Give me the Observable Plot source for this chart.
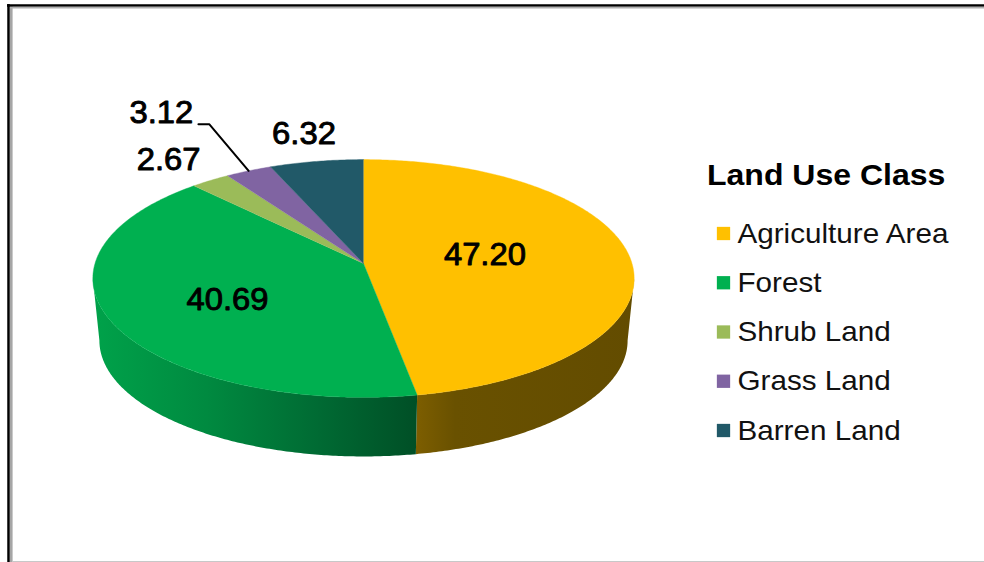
<!DOCTYPE html>
<html>
<head>
<meta charset="utf-8">
<style>
  html, body { margin: 0; padding: 0; background: #fff; }
  svg { display: block; }
</style>
<script src="https://cdn.jsdelivr.net/npm/d3@7"></script>
<script src="https://cdn.jsdelivr.net/npm/@observablehq/plot@0.6"></script>
</head>
<body>
<div id="chart"></div>
<script>
// Land use shares, in per cent of the mapped area
const categories = ["Agriculture Area", "Forest", "Shrub Land", "Grass Land", "Barren Land"];
const shares = [47.20, 40.69, 2.67, 3.12, 6.32];
const shareLabels = ["47.20", "40.69", "2.67", "3.12", "6.32"];
const colors = ["#FFC000", "#00B050", "#9BBB59", "#8064A2", "#215968"];
const legendTitle = "Land Use Class";

// Where each value label sits: radial factor from the pie centre, then a nudge
const labelRadius = [0.46, 0.55, 1.27, 1.74, 1.305];
const labelNudge = [[-1, -4], [0, 7], [-5, 0], [-16, 0], [0, 0]];

const W = 984, H = 562;

// Perspective view of the disc: k sets the foreshortening towards the back
const top3d = {cx: 363, cy: 263, a: 117, b: 268.5, k: 0.126};
const base3d = {cx: 363, cy: 325.5, a: 114, b: 262, k: 0.126};
const project = (t, r, v = top3d) => {
  const d = 1 + v.k * r * Math.cos(t);
  return {x: v.cx + v.b * r * Math.sin(t) / d, y: v.cy - v.a * r * Math.cos(t) / d};
};
const sweep = (t0, t1) => {
  const n = Math.max(2, Math.ceil(Math.abs(t1 - t0) / 0.01));
  return d3.range(n + 1).map((i) => t0 + (t1 - t0) * i / n);
};

const slices = d3.pie().sort(null)(shares);

// Top face wedges
const wedges = slices.map((s) => [project(0, 0), ...sweep(s.startAngle, s.endAngle).map((t) => project(t, 1))]);

// Side wall: only the part of the rim that faces the viewer
const sideStart = Math.PI - Math.acos(top3d.k);
const sideEnd = Math.PI + Math.acos(top3d.k);
const walls = slices.map((s) => {
  const t0 = Math.max(s.startAngle, sideStart), t1 = Math.min(s.endAngle, sideEnd);
  if (t1 <= t0) return null;
  const ts = sweep(t0, t1);
  return [...ts.map((t) => project(t, 1)), ...ts.slice().reverse().map((t) => project(t, 1, base3d))];
});

// Horizontal shading of the wall segments
const shading = [
  {id: "wall-0", stops: [[0, "#7d5e00"], [0.18, "#695100"], [1, "#634c00"]]},
  {id: "wall-1", stops: [[0, "#00a24a"], [0.35, "#008a40"], [0.7, "#006a33"], [1, "#004f26"]]}
];
const gradients = () => {
  const defs = d3.create("svg:defs");
  shading.forEach((g) => {
    const i = +g.id.split("-")[1];
    const xs = walls[i].map((p) => p.x);
    const lg = defs.append("linearGradient").attr("id", g.id).attr("gradientUnits", "userSpaceOnUse")
      .attr("x1", d3.min(xs)).attr("x2", d3.max(xs)).attr("y1", 0).attr("y2", 0);
    g.stops.forEach(([o, c]) => lg.append("stop").attr("offset", o).attr("stop-color", c));
  });
  return defs.node();
};

// Value labels positioned from each slice's mid angle
const labels = slices.map((s, i) => {
  const p = project((s.startAngle + s.endAngle) / 2, labelRadius[i]);
  return {text: shareLabels[i], x: p.x + labelNudge[i][0], y: p.y + labelNudge[i][1]};
});

// Leader line for the Grass Land value
const grass = slices[3];
const leaderEnd = project((grass.startAngle + grass.endAngle) / 2, 1);
const leader = [
  {x: labels[3].x + 37, y: labels[3].y + 11},
  {x: labels[3].x + 48, y: labels[3].y + 11},
  leaderEnd
];

// Legend rows
const legendRows = categories.map((name, i) => ({name, color: colors[i], y: 233 + i * 49.25}));

const font = "Liberation Sans, Arial, sans-serif";

const plot = Plot.plot({
  width: W,
  height: H,
  margin: 0,
  style: {background: "#fff", fontFamily: font},
  x: {domain: [0, W], range: [0, W], axis: null},
  y: {domain: [0, H], range: [0, H], axis: null},
  marks: [
    gradients,
    // window-style frame around the chart
    Plot.ruleX([8], {y1: 4, y2: H, stroke: "#000", strokeWidth: 2.5}),
    Plot.ruleX([10.8], {y1: 6, y2: H, stroke: "#a6a6a6", strokeWidth: 2.6}),
    Plot.ruleY([5], {x1: 7, x2: W, stroke: "#000", strokeWidth: 2.5}),
    Plot.ruleY([7.2], {x1: 10, x2: W, stroke: "#b0b0b0", strokeWidth: 1.8}),
    Plot.ruleY([561], {x1: 12, x2: W, stroke: "#c8c8c8", strokeWidth: 1}),
    // side wall, then the top face over it
    ...walls.map((w, i) => w && Plot.line(w, {x: "x", y: "y", fill: `url(#wall-${i})`, stroke: "none"})).filter(Boolean),
    ...wedges.map((w, i) => Plot.line(w, {x: "x", y: "y", fill: colors[i], stroke: colors[i], strokeWidth: 0.4})),
    Plot.line(leader, {x: "x", y: "y", stroke: "#000", strokeWidth: 2, curve: "linear"}),
    // semi-bold value labels: regular glyphs thickened with a thin outline
    Plot.text(labels, {x: "x", y: "y", text: "text", fontSize: 30.5, fill: "#000", stroke: "#000", strokeWidth: 0.9, className: "value-label"}),
    // legend
    Plot.text([legendTitle], {x: 706.5, y: 175, text: (d) => d, textAnchor: "start", fontSize: 29.5, fontWeight: "bold", fill: "#000", className: "legend-title"}),
    Plot.dot(legendRows, {x: 723, y: "y", symbol: "square", r: 7.5, fill: "color", stroke: "none"}),
    Plot.text(legendRows, {x: 737, y: "y", text: "name", textAnchor: "start", fontSize: 28.5, fill: "#111", className: "legend-label"})
  ],
  color: {type: "identity"}
});

document.getElementById("chart").appendChild(plot);

// The type is set slightly wide; stretch each text run horizontally
const stretch = {"value-label": 1.075, "legend-title": 1.085, "legend-label": 1.04};
Object.entries(stretch).forEach(([cls, f]) => {
  plot.querySelectorAll(`.${cls} text`).forEach((t) => {
    t.setAttribute("textLength", t.getComputedTextLength() * f);
    t.setAttribute("lengthAdjust", "spacingAndGlyphs");
  });
});
</script>
</body>
</html>
